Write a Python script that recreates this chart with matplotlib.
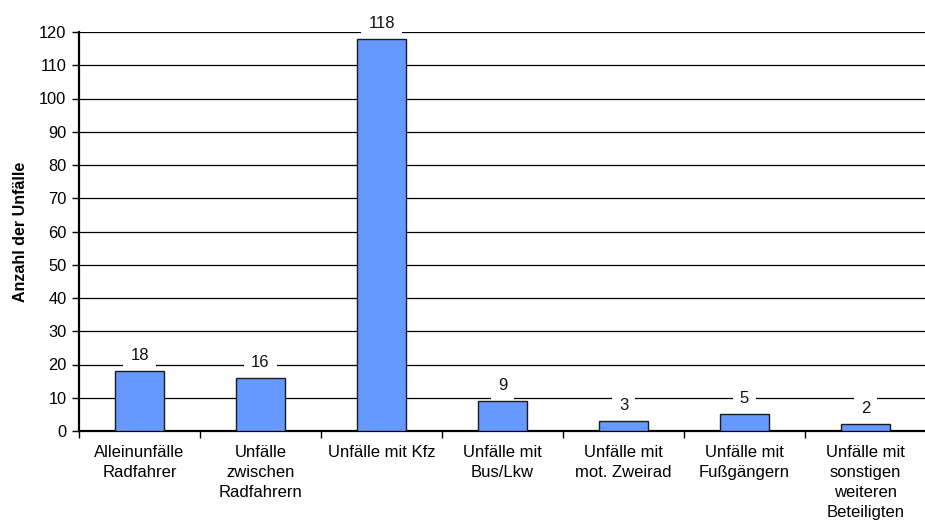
import matplotlib
matplotlib.use("Agg")
import matplotlib.pyplot as plt
import numpy as np

categories = [
    "Alleinunfälle\nRadfahrer",
    "Unfälle\nzwischen\nRadfahrern",
    "Unfälle mit Kfz",
    "Unfälle mit\nBus/Lkw",
    "Unfälle mit\nmot. Zweirad",
    "Unfälle mit\nFußgängern",
    "Unfälle mit\nsonstigen\nweiteren\nBeteiligten",
]
values = [18, 16, 118, 9, 3, 5, 2]
yticks = list(range(0, 121, 10))

plt.rcParams["font.family"] = ["Liberation Sans", "DejaVu Sans"]
FS = 12

fig = plt.figure(figsize=(9.25, 5.25), dpi=100)
ax = fig.add_axes([79 / 925, 1 - 431 / 525, (926 - 79) / 925, (431 - 32) / 525])

x = np.arange(len(categories))
ax.bar(x, values, width=0.405, color="#6699FF", edgecolor="#1a1a1a", linewidth=1.0, zorder=3)

for xi, v in zip(x, values):
    ax.annotate(str(v), (xi, v), xytext=(0, 8), textcoords="offset points",
                ha="center", va="baseline", fontsize=FS, color="#111111", zorder=2.5,
                bbox=dict(boxstyle="square,pad=0.42", fc="white", ec="none"))

ax.set_xlim(-0.5, len(categories) - 0.5)
ax.set_ylim(0, 120)
ax.set_yticks(yticks)
ax.set_yticklabels([str(t) for t in yticks], fontsize=11.8)
ax.yaxis.grid(True, color="black", linewidth=0.9, zorder=0)
ax.set_axisbelow(True)

ax.set_xticks(x)
ax.set_xticklabels(categories, fontsize=FS, linespacing=1.42)
ax.tick_params(axis="x", length=0, pad=10)
ax.set_xticks(np.arange(len(categories) + 1) - 0.5, minor=True)
ax.tick_params(axis="x", which="minor", length=5, width=1, direction="out")
ax.tick_params(axis="y", length=5, width=1, direction="out", pad=4)

for s in ["top", "right"]:
    ax.spines[s].set_visible(False)
ax.spines["left"].set_linewidth(1.6)
ax.spines["bottom"].set_linewidth(1.6)

ax.set_ylabel("Anzahl der Unfälle", fontsize=11.5, fontweight="bold", labelpad=8)

fig.savefig("out.png", dpi=100)
